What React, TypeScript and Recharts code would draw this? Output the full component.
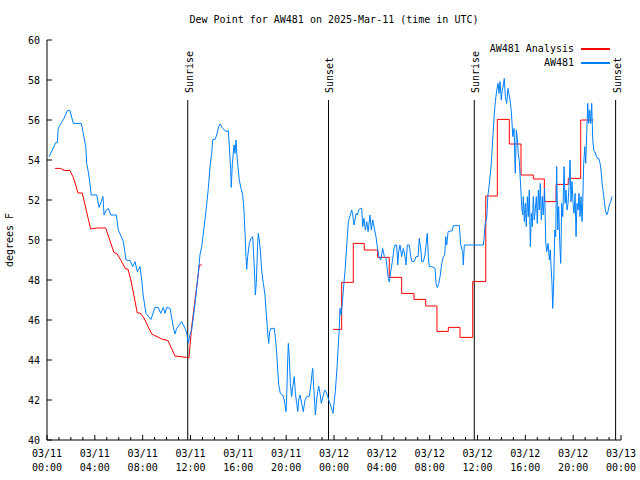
import { LineChart, Line, XAxis, YAxis, ReferenceLine, Legend } from 'recharts';

const FONT = '"DejaVu Sans Mono", monospace';
const BLUE = '#0080ff';
const RED = '#ff0000';

const TITLE = 'Dew Point for AW481 on 2025-Mar-11 (time in UTC)';
const START_DAY = 11;
const ANALYSIS_NAME = 'AW481 Analysis';
const OBS_NAME = 'AW481';

// hours since 03/11 00:00 UTC
const HOUR_TICKS = Array.from({ length: 49 }, (_, i) => i);
const Y_TICKS = [40, 42, 44, 46, 48, 50, 52, 54, 56, 58, 60];

const SUN_EVENTS: { t: number; label: string }[] = [
  { t: 11.77, label: 'Sunrise' },
  { t: 23.54, label: 'Sunset' },
  { t: 35.73, label: 'Sunrise' },
  { t: 47.55, label: 'Sunset' },
];

// AW481 observations [hour, degF]
const OBS: [number, number][] = [
  [0.17, 54.17], [0.44, 54.5], [0.73, 54.87], [0.86, 54.87], [0.94, 55.58], [1.09, 55.75], [1.42, 56.08], [1.7, 56.47],
  [1.92, 56.47], [2.2, 55.83], [2.87, 55.83], [3.04, 55.33], [3.24, 54.67], [3.32, 53.83], [3.45, 53.42], [3.57, 52.92],
  [3.7, 52.25], [4.16, 52.25], [4.35, 51.63], [4.54, 51.92], [4.68, 52.17], [4.77, 51.25], [4.96, 51.5], [5.13, 51.58],
  [5.33, 51.25], [5.8, 51.25], [5.96, 50.5], [6.21, 50.17], [6.38, 49.92], [6.61, 49.0], [6.94, 48.97], [7.17, 48.67],
  [7.36, 48.92], [7.55, 48.42], [7.78, 48.67], [7.92, 48.0], [8.05, 47.2], [8.28, 46.33], [8.7, 46.03], [9.03, 46.63],
  [9.31, 46.63], [9.51, 46.33], [9.73, 46.63], [9.87, 46.33], [10.01, 46.63], [10.29, 46.58], [10.56, 45.67], [10.7, 45.3],
  [10.85, 45.58], [11.26, 45.92], [11.54, 45.58], [11.68, 45.35], [11.82, 44.85], [11.98, 45.33], [12.1, 45.5], [12.21, 46.0],
  [12.38, 46.83], [12.52, 47.6], [12.65, 48.33], [12.79, 49.25], [12.94, 49.67], [13.07, 50.33], [13.21, 51.0], [13.36, 51.83],
  [13.49, 52.58], [13.63, 53.67], [13.77, 54.33], [13.86, 55.03], [14.05, 55.03], [14.19, 55.25], [14.36, 55.67], [14.47, 55.8],
  [14.69, 55.58], [14.97, 55.42], [15.16, 55.47], [15.25, 54.67], [15.3, 54.08], [15.36, 53.58], [15.41, 52.63], [15.5, 53.83],
  [15.64, 54.75], [15.72, 54.33], [15.81, 55.0], [15.89, 54.17], [15.97, 53.67], [16.08, 53.0], [16.22, 52.58], [16.37, 52.25],
  [16.47, 51.5], [16.56, 50.33], [16.64, 49.17], [16.7, 48.53], [16.78, 49.17], [16.92, 49.83], [17.06, 50.08], [17.2, 50.17],
  [17.29, 49.17], [17.37, 48.17], [17.42, 47.25], [17.5, 47.83], [17.56, 48.83], [17.62, 49.83], [17.67, 50.33], [17.75, 50.0],
  [17.84, 49.5], [17.95, 48.5], [18.09, 47.83], [18.23, 47.25], [18.31, 46.5], [18.4, 45.83], [18.48, 45.17], [18.54, 44.83],
  [18.62, 45.42], [18.73, 45.58], [19.01, 45.58], [19.09, 45.17], [19.21, 44.33], [19.29, 43.5], [19.38, 42.75], [19.51, 42.33],
  [19.71, 42.25], [19.84, 42.0], [19.99, 41.42], [20.05, 42.33], [20.13, 44.0], [20.18, 44.83], [20.26, 44.17], [20.35, 42.83],
  [20.46, 42.17], [20.55, 42.67], [20.68, 43.17], [20.77, 42.33], [20.88, 41.83], [20.97, 41.42], [21.05, 42.0], [21.16, 42.25],
  [21.3, 41.83], [21.43, 41.42], [21.58, 42.0], [21.72, 42.17], [21.94, 42.2], [22.08, 42.83], [22.16, 43.33], [22.22, 43.58],
  [22.3, 42.67], [22.39, 41.83], [22.44, 41.25], [22.55, 42.0], [22.64, 42.42], [22.72, 42.7], [22.83, 42.33], [22.94, 41.83],
  [23.11, 42.25], [23.22, 42.5], [23.33, 42.42], [23.47, 42.17], [23.61, 41.92], [23.75, 41.67], [23.92, 41.33], [24.03, 42.0],
  [24.11, 42.42], [24.25, 43.6], [24.36, 44.75], [24.44, 45.58], [24.5, 46.58], [24.59, 46.25], [24.65, 46.58], [24.73, 47.08],
  [24.84, 47.92], [24.92, 48.42], [25.01, 49.25], [25.11, 50.08], [25.2, 50.92], [25.28, 51.08], [25.4, 51.33], [25.48, 51.5],
  [25.57, 51.25], [25.67, 50.75], [25.76, 51.0], [25.84, 51.33], [25.95, 51.25], [26.07, 51.5], [26.18, 51.58], [26.32, 51.58],
  [26.4, 50.67], [26.51, 51.08], [26.62, 50.5], [26.74, 50.92], [26.85, 50.42], [27.01, 51.25], [27.12, 50.5], [27.24, 51.0],
  [27.37, 50.58], [27.51, 50.17], [27.62, 49.67], [27.79, 49.08], [27.91, 49.0], [28.07, 49.58], [28.21, 49.17], [28.35, 49.08],
  [28.46, 48.5], [28.54, 48.08], [28.63, 47.9], [28.74, 48.4], [28.88, 48.92], [29.02, 49.58], [29.1, 49.75], [29.24, 49.75],
  [29.33, 48.75], [29.41, 49.42], [29.52, 49.75], [29.66, 49.17], [29.8, 49.58], [29.94, 49.17], [30.02, 48.75], [30.13, 49.75],
  [30.3, 49.75], [30.42, 49.17], [30.52, 48.92], [30.69, 48.92], [30.86, 49.17], [31.03, 49.17], [31.13, 50.08], [31.25, 49.58],
  [31.34, 48.92], [31.47, 48.92], [31.61, 49.25], [31.8, 50.33], [31.89, 49.17], [31.97, 48.67], [32.17, 48.67], [32.45, 48.58],
  [32.53, 47.83], [32.64, 47.62], [32.76, 47.83], [32.87, 48.17], [33.01, 48.83], [33.14, 49.17], [33.26, 49.25], [33.34, 50.17],
  [33.43, 49.75], [33.54, 50.42], [33.7, 50.45], [33.87, 50.45], [33.98, 50.72], [34.48, 50.72], [34.6, 49.75], [34.76, 49.42],
  [34.81, 48.75], [34.9, 49.75], [35.15, 49.75], [36.49, 49.75], [36.57, 50.25], [36.63, 50.75], [36.77, 51.08], [36.86, 52.17],
  [36.96, 52.67], [37.11, 53.5], [37.19, 54.17], [37.32, 55.5], [37.41, 56.33], [37.49, 56.92], [37.61, 57.5], [37.72, 57.83],
  [37.8, 57.33], [37.88, 57.92], [37.99, 57.0], [38.07, 57.5], [38.16, 57.75], [38.24, 58.08], [38.33, 57.17], [38.44, 56.83],
  [38.55, 57.58], [38.64, 57.25], [38.72, 57.0], [38.83, 56.42], [38.89, 55.83], [38.95, 55.17], [39.06, 55.58], [39.11, 54.17],
  [39.16, 53.33], [39.25, 55.5], [39.33, 55.08], [39.41, 54.33], [39.5, 53.92], [39.61, 52.67], [39.7, 51.67], [39.78, 51.25],
  [39.83, 52.17], [39.92, 50.92], [40.0, 51.83], [40.08, 50.67], [40.17, 52.17], [40.25, 51.17], [40.33, 52.5], [40.42, 49.67],
  [40.5, 51.33], [40.58, 50.67], [40.67, 52.17], [40.75, 51.0], [40.83, 51.5], [40.92, 52.17], [41.0, 50.83], [41.09, 52.5],
  [41.17, 51.5], [41.25, 52.83], [41.34, 51.0], [41.42, 52.17], [41.5, 51.25], [41.61, 52.6], [41.71, 49.83], [41.79, 49.42],
  [41.9, 49.83], [42.01, 49.0], [42.09, 49.5], [42.15, 48.67], [42.23, 47.83], [42.29, 46.58], [42.37, 47.83], [42.46, 50.5],
  [42.54, 50.17], [42.62, 53.67], [42.71, 50.5], [42.79, 51.67], [42.88, 49.83], [42.96, 48.83], [43.04, 51.83], [43.13, 51.17],
  [43.24, 53.67], [43.32, 51.83], [43.4, 52.5], [43.49, 51.5], [43.57, 51.83], [43.65, 52.67], [43.74, 54.0], [43.82, 51.92],
  [43.9, 52.92], [43.99, 51.83], [44.07, 51.33], [44.16, 52.33], [44.24, 50.17], [44.32, 51.83], [44.41, 51.5], [44.49, 52.33],
  [44.57, 51.17], [44.66, 52.17], [44.74, 50.92], [44.8, 51.83], [44.88, 53.83], [44.97, 54.67], [45.05, 53.83], [45.13, 55.33],
  [45.22, 56.83], [45.3, 55.83], [45.39, 56.5], [45.47, 55.83], [45.55, 56.83], [45.64, 55.0], [45.72, 54.5], [45.8, 54.42],
  [45.91, 54.25], [46.02, 54.08], [46.14, 54.08], [46.25, 53.83], [46.33, 53.5], [46.42, 52.83], [46.53, 52.33], [46.61, 51.92],
  [46.69, 51.5], [46.81, 51.25], [46.91, 51.42], [47.02, 51.75], [47.14, 51.92], [47.25, 52.17],
];

// AW481 analysis, first day (fine resolution)
const ANALYSIS_DAY1: [number, number][] = [
  [0.67, 53.58], [1.15, 53.58], [1.42, 53.48], [1.92, 53.48], [2.2, 53.13], [2.4, 52.75], [2.59, 52.35], [2.95, 52.35],
  [3.65, 50.55], [4.16, 50.6], [4.91, 50.6], [5.6, 49.37], [5.88, 49.3], [6.58, 48.55], [6.77, 48.55], [7.05, 47.9],
  [7.55, 46.35], [7.78, 46.35], [8.11, 46.1], [8.76, 45.3], [9.59, 45.05], [10.12, 44.97], [10.7, 44.2], [11.68, 44.13],
  [11.87, 44.1], [12.1, 45.67], [12.38, 47.0], [12.74, 48.75], [12.94, 48.75],
];

// AW481 analysis, second day (hourly steps)
const ANALYSIS_DAY2: [number, number][] = [
  [23.92, 45.53], [24.64, 47.88], [25.61, 49.83], [26.53, 49.5], [27.65, 49.13], [28.62, 48.13], [29.66, 47.33], [30.69, 47.03],
  [31.67, 46.7], [32.61, 45.43], [33.56, 45.63], [34.54, 45.13], [35.6, 47.92], [36.69, 52.2], [37.66, 56.03], [38.66, 54.8],
  [39.64, 53.25], [40.67, 53.05], [41.59, 51.92], [42.57, 52.78], [43.59, 53.08], [44.63, 56.0], [45.69, 56.0],
];

const LEGEND_ITEMS = [
  { name: ANALYSIS_NAME, color: RED },
  { name: OBS_NAME, color: BLUE },
];

const toRows = (pts: [number, number][]) => pts.map(([t, v]) => ({ t, v }));
const obsRows = toRows(OBS);
const day1Rows = toRows(ANALYSIS_DAY1);
const day2Rows = toRows(ANALYSIS_DAY2);

const pad = (n: number) => String(n).padStart(2, '0');
const dayLabel = (h: number) => `03/${pad(START_DAY + Math.floor(h / 24))}`;
const timeLabel = (h: number) => `${pad(h % 24)}:00`;

function BottomTick({ x, y, payload }: any) {
  const h = payload.value;
  const major = h % 4 === 0;
  return (
    <g>
      <line x1={x} y1={y} x2={x} y2={y - (major ? 5 : 3)} stroke="#000" />
      {major && (
        <text x={x} y={y} textAnchor="middle" fontFamily={FONT} fontSize={10} fill="#000">
          <tspan x={x} dy={16.5}>{dayLabel(h)}</tspan>
          <tspan x={x} dy={14}>{timeLabel(h)}</tspan>
        </text>
      )}
    </g>
  );
}

function TopTick({ x, y, payload }: any) {
  const major = payload.value % 4 === 0;
  return <line x1={x} y1={y} x2={x} y2={y + (major ? 5 : 3)} stroke="#000" />;
}

function LeftTick({ x, y, payload }: any) {
  return (
    <g>
      <line x1={x} y1={y} x2={x + 5} y2={y} stroke="#000" />
      <text x={x - 7} y={y} dy="0.35em" textAnchor="end" fontFamily={FONT} fontSize={10} fill="#000">
        {payload.value}
      </text>
    </g>
  );
}

function RightTick({ x, y }: any) {
  return <line x1={x} y1={y} x2={x - 5} y2={y} stroke="#000" />;
}

function YTitle({ viewBox }: any) {
  const cy = viewBox.y + viewBox.height / 2;
  return (
    <text transform={`translate(13,${cy}) rotate(-90)`} textAnchor="middle" fontFamily={FONT} fontSize={10} fill="#000">
      degrees F
    </text>
  );
}

function SunLabel({ viewBox, text }: any) {
  return (
    <text
      transform={`translate(${viewBox.x + 5},${viewBox.y - 7}) rotate(-90)`}
      textAnchor="start"
      fontFamily={FONT}
      fontSize={10}
      fill="#000"
    >
      {text}
    </text>
  );
}

function LegendBox() {
  return (
    <div style={{ fontFamily: FONT, fontSize: 10, lineHeight: '14px', color: '#000' }}>
      {LEGEND_ITEMS.map((item) => (
        <div key={item.name} style={{ display: 'flex', justifyContent: 'flex-end', alignItems: 'center', height: 14 }}>
          <span>{item.name}</span>
          <svg width={36} height={14} style={{ display: 'block' }}>
            <line x1={7} y1={7} x2={36} y2={7} stroke={item.color} strokeWidth={2} />
          </svg>
        </div>
      ))}
    </div>
  );
}

export default function App() {
  return (
    <div style={{ position: 'absolute', left: 0, top: 0, width: 640, height: 480, background: '#fff' }}>
      <div
        style={{
          position: 'absolute', left: 0, top: 13, width: 668, textAlign: 'center',
          fontFamily: FONT, fontSize: 10, lineHeight: '14px', color: '#000',
        }}
      >
        {TITLE}
      </div>
      <LineChart width={640} height={480} margin={{ top: 40, right: 19, bottom: 0, left: 0 }}>
        <XAxis
          dataKey="t" type="number" domain={[0, 48]} ticks={HOUR_TICKS} interval={0} allowDataOverflow
          height={40} tickSize={0} tickMargin={0} tickLine={false} tick={<BottomTick />}
          axisLine={{ stroke: '#000' }}
        />
        <XAxis
          xAxisId="top" orientation="top" dataKey="t" type="number" domain={[0, 48]} ticks={HOUR_TICKS}
          interval={0} allowDataOverflow height={0} tickSize={0} tickMargin={0} tickLine={false}
          tick={<TopTick />} axisLine={{ stroke: '#000' }}
        />
        <YAxis
          type="number" domain={[40, 60]} ticks={Y_TICKS} interval={0} allowDataOverflow width={47}
          tickSize={0} tickMargin={0} tickLine={false} tick={<LeftTick />} axisLine={{ stroke: '#000' }}
          label={<YTitle />}
        />
        <YAxis
          yAxisId="right" orientation="right" type="number" domain={[40, 60]} ticks={Y_TICKS} interval={0}
          allowDataOverflow width={0} tickSize={0} tickMargin={0} tickLine={false} tick={<RightTick />}
          axisLine={{ stroke: '#000' }}
        />
        {SUN_EVENTS.map((s) => (
          <ReferenceLine
            key={s.t}
            segment={[{ x: s.t, y: 57 }, { x: s.t, y: 40 }]}
            stroke="#000"
            strokeWidth={1}
            label={<SunLabel text={s.label} />}
          />
        ))}
        <Line
          data={day1Rows} dataKey="v" name={ANALYSIS_NAME} type="linear" stroke={RED} strokeWidth={1}
          dot={false} activeDot={false} isAnimationActive={false}
        />
        <Line
          data={day2Rows} dataKey="v" name={ANALYSIS_NAME} legendType="none" type="stepAfter" stroke={RED}
          strokeWidth={1} dot={false} activeDot={false} isAnimationActive={false}
        />
        <Line
          data={obsRows} dataKey="v" name={OBS_NAME} type="linear" stroke={BLUE} strokeWidth={1}
          dot={false} activeDot={false} isAnimationActive={false}
        />
        <Legend
          layout="vertical" align="center" verticalAlign="middle"
          wrapperStyle={{ top: 42, left: 360, width: 250 }}
          content={<LegendBox />}
        />
      </LineChart>
    </div>
  );
}
